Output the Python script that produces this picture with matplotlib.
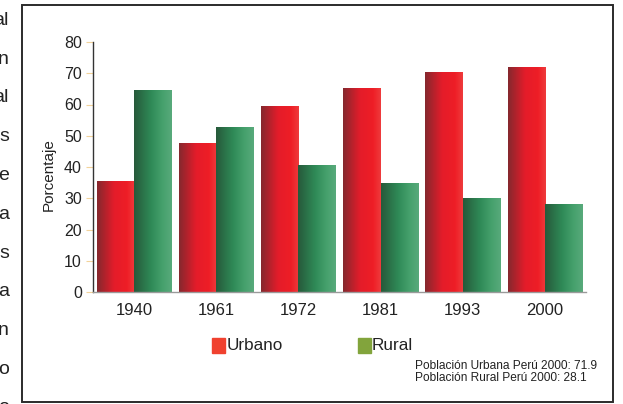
import matplotlib.pyplot as plt
import numpy as np
from matplotlib.colors import LinearSegmentedColormap
from matplotlib.patches import Rectangle

plt.rcParams['font.family'] = ['Liberation Sans', 'DejaVu Sans']

# ---- data ----
years = ["1940", "1961", "1972", "1981", "1993", "2000"]
urbano = [35.4, 47.4, 59.5, 65.2, 70.1, 71.9]
rural = [64.6, 52.6, 40.5, 34.8, 29.9, 28.1]
note_lines = ["Población Urbana Perú 2000: 71.9",
              "Población Rural Perú 2000: 28.1"]
# cut-off words of the surrounding page text, left margin
margin_text = ["al", "n", "al", "s", "e", "a", "s", "a", "n", "o", "o"]

W, H = 623, 404
fig = plt.figure(figsize=(W / 100, H / 100), dpi=100)

# outer frame of the chart
fig.patches.append(Rectangle((22 / W, 1 - 402 / H), 591 / W, 397 / H,
                             transform=fig.transFigure, fill=False,
                             edgecolor="#2b2b2b", lw=1.4))

for i, t in enumerate(margin_text):
    fig.text(9 / W, 1 - (25 + 38.75 * i) / H, t, ha="right", va="baseline",
             fontsize=14, color="#222222")

ax = fig.add_axes([93 / W, 1 - 292 / H, 493 / W, 250 / H])

red_cmap = LinearSegmentedColormap.from_list(
    "red", [(0, "#86282e"), (0.45, "#e41c2a"), (0.8, "#ee1e26"), (1, "#ef3a3c")])
green_cmap = LinearSegmentedColormap.from_list(
    "green", [(0, "#275a3b"), (0.45, "#2f8a57"), (0.75, "#45a06c"), (1, "#58aa7b")])
grad = np.linspace(0, 1, 64).reshape(1, -1)

x = np.arange(len(years))
w = 0.455
for xi, u, r in zip(x, urbano, rural):
    ax.imshow(grad, cmap=red_cmap, extent=(xi - w, xi, 0, u), aspect="auto",
              zorder=2, interpolation="bilinear")
    ax.imshow(grad, cmap=green_cmap, extent=(xi, xi + w, 0, r), aspect="auto",
              zorder=2, interpolation="bilinear")

ax.set_xlim(-0.5, len(years) - 0.5)
ax.set_ylim(0, 80)
ax.set_xticks(x)
ax.set_xticklabels(years, fontsize=12, color="#222222")
ax.set_yticks(range(0, 81, 10))
ax.tick_params(axis="y", direction="out", length=5, color="#f3d39a",
               labelsize=11.5, labelcolor="#222222", pad=3)
ax.tick_params(axis="x", length=0, pad=8)
for s in ("top", "right"):
    ax.spines[s].set_visible(False)
ax.spines["left"].set_color("#333333")
ax.spines["left"].set_linewidth(1.0)
ax.spines["bottom"].set_color("#9a9a9a")
ax.spines["bottom"].set_linewidth(1.0)
ax.set_ylabel("Porcentaje", fontsize=11, color="#222222", va="center")
ax.yaxis.set_label_coords(-44 / 493, 0.47)

# legend
fig.patches.append(Rectangle((212 / W, 1 - 353 / H), 13 / W, 15 / H,
                             transform=fig.transFigure, color="#f0412f"))
fig.text(227 / W, 1 - 345 / H, "Urbano", fontsize=12.3, va="center", color="#222222")
fig.patches.append(Rectangle((358 / W, 1 - 353 / H), 13 / W, 15 / H,
                             transform=fig.transFigure, color="#82a43c"))
fig.text(372 / W, 1 - 345 / H, "Rural", fontsize=12.3, va="center", color="#222222")

for i, line in enumerate(note_lines):
    fig.text(415 / W, 1 - (366 + 12 * i) / H, line, fontsize=8.6,
             va="center", color="#222222")

fig.savefig("out.png", dpi=100)
